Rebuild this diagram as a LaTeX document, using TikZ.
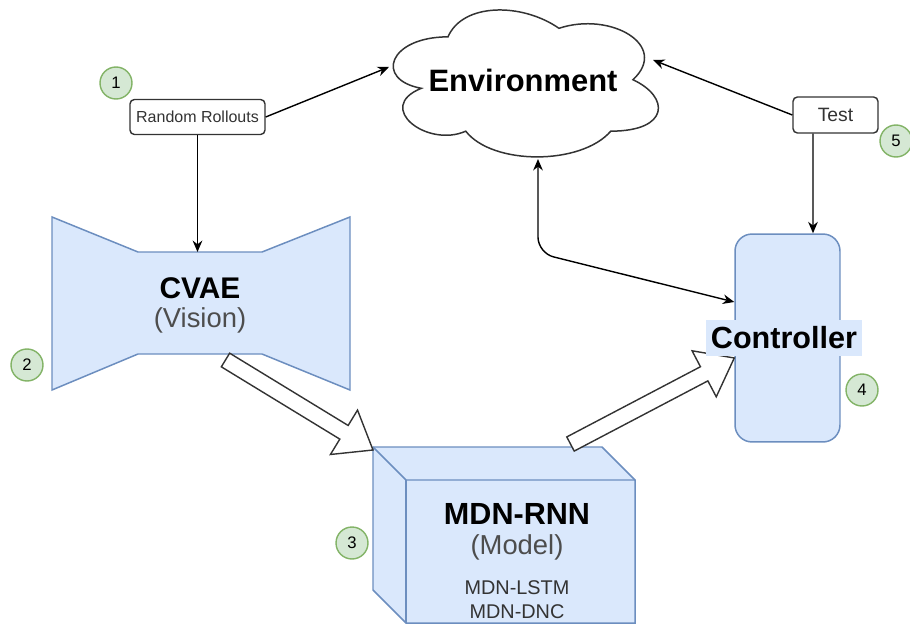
\documentclass[tikz,border=0pt]{standalone}
\usepackage{fontspec}
\setmainfont{Liberation Sans}
\usetikzlibrary{arrows.meta,calc}
\definecolor{bfill}{HTML}{DAE8FC}
\definecolor{bdraw}{HTML}{6C8EBF}
\definecolor{gfill}{HTML}{D5E8D4}
\definecolor{gdraw}{HTML}{82B366}
\definecolor{subgray}{HTML}{4D4D4D}
\definecolor{txtgray}{HTML}{333333}
\tikzset{
  conn/.style={draw=black, line width=0.8pt, -{Stealth[length=6.5pt,width=5.5pt]}},
  txtbox/.style={draw=txtgray, line width=0.8pt, rounded corners=2.5pt, fill=white, text=txtgray, inner sep=0pt},
  badge/.style={circle, draw=gdraw, fill=gfill, line width=0.8pt, minimum size=0.64cm, inner sep=0pt, font=\fontsize{9.5}{11}\selectfont},
  bluebox/.style={fill=bfill, draw=bdraw, line width=0.85pt, line join=miter},
  blockarr/.style={draw=txtgray, fill=white, line width=0.8pt, line join=miter},
  title/.style={font=\bfseries\fontsize{17.4}{20}\selectfont, inner sep=0pt},
  subtitle/.style={text=subgray, font=\fontsize{15.6}{18}\selectfont, inner sep=0pt},
  small/.style={text=txtgray, font=\fontsize{11.3}{13}\selectfont, inner sep=0pt},
}
% block (hollow) arrow from #1 to #2
\newcommand{\blockarrow}[2]{%
  \coordinate (hb) at ($(#2)!19.35pt!(#1)$);
  \draw[blockarr] ($(#1)!4.55pt!90:(#2)$) -- ($(hb)!4.55pt!90:(#2)$)
    -- ($(hb)!14.8pt!90:(#2)$) -- (#2) -- ($(hb)!14.8pt!-90:(#2)$)
    -- ($(hb)!4.55pt!-90:(#2)$) -- ($(#1)!4.55pt!-90:(#2)$) -- cycle;
}
\begin{document}
\begin{tikzpicture}[x=0.02cm,y=-0.02cm]
\useasboundingbox (0,0) rectangle (910,625);

% ---- Environment cloud
\begin{scope}[shift={(374,-6)},x=5.92cm,y=-3.43cm]
\draw[fill=white, draw=black!80, line width=0.85pt]
  (0.25,0.25) .. controls (0.05,0.25) and (0,0.5) .. (0.16,0.55)
  .. controls (0,0.66) and (0.18,0.9) .. (0.31,0.8)
  .. controls (0.4,1) and (0.7,1) .. (0.8,0.8)
  .. controls (1,0.8) and (1,0.6) .. (0.875,0.5)
  .. controls (1,0.3) and (0.8,0.1) .. (0.625,0.2)
  .. controls (0.5,0.05) and (0.3,0.05) .. (0.25,0.25) -- cycle;
\end{scope}
\node[title, font=\bfseries\fontsize{17.6}{20}\selectfont] (env) at (523,80) {Environment};
\coordinate (envL) at (389,67);
\coordinate (envR) at (653,60);
\coordinate (envB) at (538,159);

% ---- Random Rollouts / Test
\node[txtbox, minimum width=2.7cm, minimum height=0.7cm, font=\fontsize{9.1}{11}\selectfont] (rr) at (197.5,117) {Random Rollouts};
\node[txtbox, minimum width=1.7cm, minimum height=0.72cm, font=\fontsize{11}{13}\selectfont] (test) at (835.5,115) {Test};

% ---- CVAE
\draw[bluebox] (52,217) -- (138,252) -- (262,252) -- (350,217) -- (350,390)
  -- (262,354) -- (138,354) -- (52,390) -- cycle;
\coordinate (cvaeTop) at (197.5,252);
\coordinate (cvaeOut) at (225.5,360);
\node[title, font=\bfseries\fontsize{17}{20}\selectfont] (cvae) at (200,288) {CVAE};
\node[subtitle] (cvaeS) at (200,320) {(Vision)};

% ---- MDN-RNN cube
\draw[bluebox] (373,447) -- (602,447) -- (635,480) -- (635,623) -- (406,623) -- (373,590) -- cycle;
\draw[bdraw, line width=0.85pt] (373,447) -- (406,480) -- (635,480);
\draw[bdraw, line width=0.85pt] (406,480) -- (406,623);
\coordinate (mdnIn) at (373,450);
\coordinate (mdnOut) at (570.5,444);
\node[title] (mdn) at (517,514) {MDN-RNN};
\node[subtitle] (mdnS) at (517,547) {(Model)};
\node[small] (lstm) at (517,588) {MDN-LSTM};
\node[small] (dnc) at (517,612) {MDN-DNC};

% ---- Controller
\node[bluebox, rounded corners=9.7pt, minimum width=2.1cm, minimum height=4.16cm] (ctrl) at (787.5,338) {};
\coordinate (ctrlIn) at ([yshift=-0.4cm]ctrl.west);

% ---- connectors
\draw[conn] (rr.south) -- (cvaeTop);
\draw[conn] (rr.east) -- (envL);
\draw[conn] (test.west) -- (envR);
\draw[conn] ([xshift=-0.45cm]test.south) -- ([xshift=0.51cm]ctrl.north);
\coordinate (bend) at (538,253);
\draw[conn, {Stealth[length=6.5pt,width=5.5pt]}-{Stealth[length=6.5pt,width=5.5pt]}, rounded corners=9pt]
  (envB) -- (bend) -- ([yshift=0.72cm]ctrl.west);

\blockarrow{cvaeOut}{mdnIn}
\blockarrow{mdnOut}{ctrlIn}

\node[fill=bfill, title, inner xsep=3pt, minimum height=0.72cm] (ctrlL) at (784,338) {Controller};

% ---- badges
\node[badge] (b1) at (116,83) {1};
\node[badge] (b2) at (27,365) {2};
\node[badge] (b3) at (352,543) {3};
\node[badge] (b4) at (862,390) {4};
\node[badge] (b5) at (896,141) {5};
\end{tikzpicture}
\end{document}
